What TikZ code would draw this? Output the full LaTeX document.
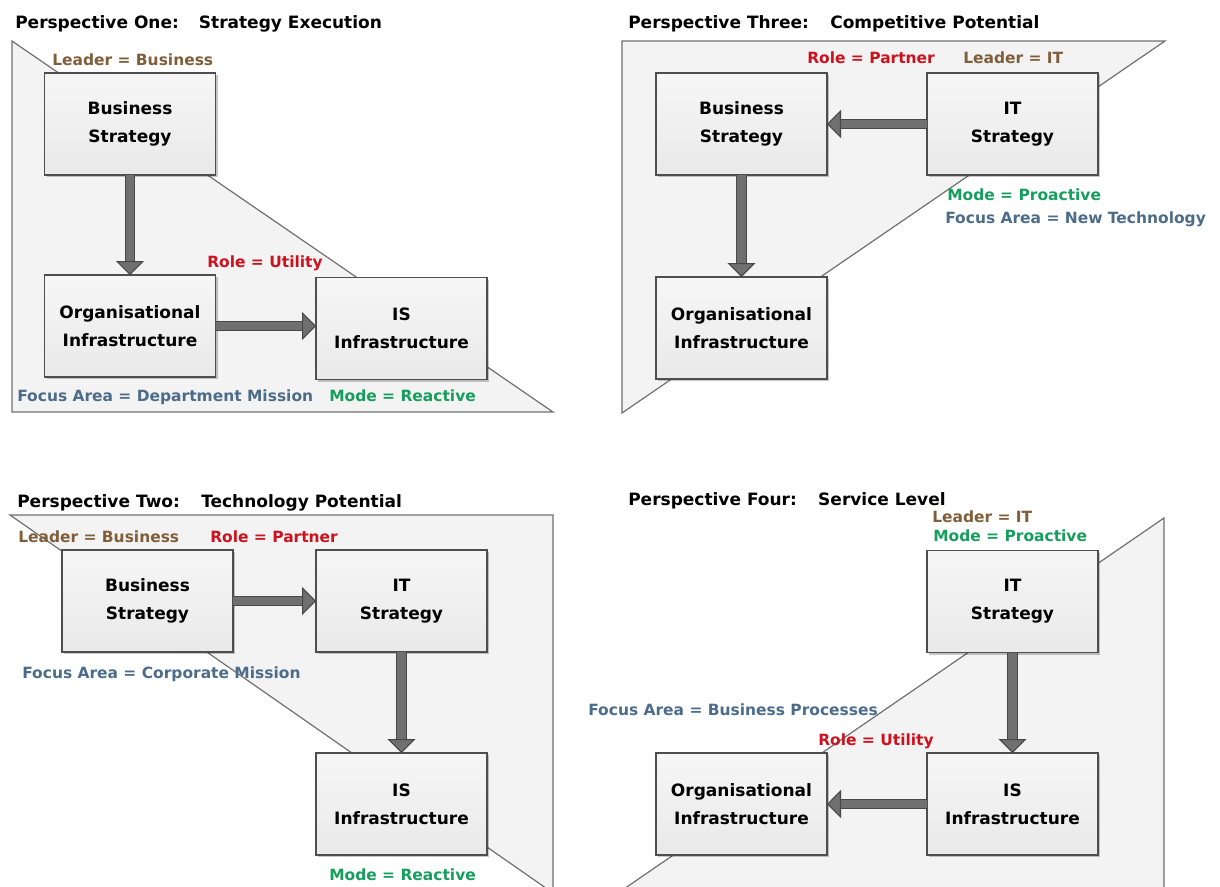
\documentclass[tikz,border=0pt]{standalone}
\usepackage{fontspec}
\setmainfont{DejaVu Sans}
\usetikzlibrary{arrows.meta,shadows}

\definecolor{panelfill}{RGB}{243,243,243}
\definecolor{panelline}{RGB}{112,112,112}
\definecolor{boxline}{RGB}{78,78,78}
\definecolor{arrowedge}{RGB}{72,72,72}
\definecolor{arrowbody}{RGB}{112,112,112}
\definecolor{leadc}{RGB}{128,94,58}
\definecolor{rolec}{RGB}{204,18,30}
\definecolor{modec}{RGB}{22,158,92}
\definecolor{focusc}{RGB}{76,108,138}

\newcommand\boxtextfont{\fontsize{12.75pt}{21pt}\selectfont\bfseries}
\newcommand\labeltextfont{\fontsize{11.6pt}{14pt}\selectfont\bfseries}
\newcommand\titletextfont{\fontsize{12.75pt}{15pt}\selectfont\bfseries}

\begin{document}
\begin{tikzpicture}[x=0.75pt,y=-0.75pt,
  panel/.style={fill=panelfill, draw=panelline, line width=0.9pt, line join=miter},
  box/.style={draw=boxline, line width=1.1pt,
    top color=gray!7, middle color=white, bottom color=gray!17,
    minimum width=128.25pt, minimum height=76.5pt,
    inner sep=0pt, outer sep=0pt, align=center, font=\boxtextfont,
    drop shadow={shadow xshift=1.5pt, shadow yshift=-1.5pt, opacity=0.22, fill=black}},
  lbl/.style={anchor=base west, inner sep=0pt, font=\labeltextfont},
  ttl/.style={anchor=base west, inner sep=0pt, font=\titletextfont},
  blockarrow/.style={line width=6.5pt, draw=arrowbody,
    -{Triangle[length=10.5pt, width=21pt, line width=0.8pt, color=arrowedge, fill=arrowbody]},
    preaction={draw=arrowedge, line width=7.8pt, -, shorten >=10pt}}
]
\useasboundingbox (0,0) rectangle (1220,886);
\clip (0,0) rectangle (1220,886);

% ---------- background shapes of the four perspectives ----------
\filldraw[panel] (12,41) -- (12,412) -- (553,412) -- cycle;
\filldraw[panel] (622,41) -- (1165,41) -- (622,413) -- cycle;
\filldraw[panel] (10,515) -- (553,515) -- (553,893) -- cycle;
\filldraw[panel] (1164,518) -- (1164,893) -- (618,893) -- cycle;

% ---------- titles ----------
\node[ttl] (t1) at (15,28) {Perspective One:\hspace{15pt}Strategy Execution};
\node[ttl] (t3) at (628,28) {Perspective Three:\hspace{16pt}Competitive Potential};
\node[ttl] (t2) at (17,507) {Perspective Two:\hspace{16pt}Technology Potential};
\node[ttl] (t4) at (628,505) {Perspective Four:\hspace{16pt}Service Level};

% ---------- boxes ----------
% Perspective One
\node[box] (bs1) at (130,124)   {Business\\Strategy};
\node[box] (oi1) at (130,326)   {Organisational\\Infrastructure};
\node[box] (is1) at (401.5,328.5) {IS\\Infrastructure};
% Perspective Three
\node[box] (bs3) at (741.5,124) {Business\\Strategy};
\node[box] (it3) at (1012.5,124) {IT\\Strategy};
\node[box] (oi3) at (741.5,328) {Organisational\\Infrastructure};
% Perspective Two
\node[box] (bs2) at (147.5,601) {Business\\Strategy};
\node[box] (it2) at (401.5,601) {IT\\Strategy};
\node[box] (is2) at (401.5,804) {IS\\Infrastructure};
% Perspective Four
\node[box] (it4) at (1012.5,601.5) {IT\\Strategy};
\node[box] (is4) at (1012.5,804) {IS\\Infrastructure};
\node[box] (oi4) at (741.5,804) {Organisational\\Infrastructure};

% ---------- block arrows ----------
\draw[blockarrow] (bs1.south) -- (oi1.north);
\draw[blockarrow] (oi1.east) -- (oi1.east -| is1.west);
\draw[blockarrow] (it3.west) -- (bs3.east);
\draw[blockarrow] (bs3.south) -- (oi3.north);
\draw[blockarrow] (bs2.east) -- (it2.west);
\draw[blockarrow] (it2.south) -- (is2.north);
\draw[blockarrow] (it4.south) -- (is4.north);
\draw[blockarrow] (is4.west) -- (oi4.east);

% ---------- attribute labels ----------
% Perspective One
\node[lbl, text=leadc]  (l1) at (52,65)   {Leader = Business};
\node[lbl, text=rolec]  (r1) at (207,267) {Role = Utility};
\node[lbl, text=focusc] (f1) at (17,401)  {Focus Area = Department Mission};
\node[lbl, text=modec]  (m1) at (329,401) {Mode = Reactive};
% Perspective Three
\node[lbl, text=rolec]  (r3) at (807,63)  {Role = Partner};
\node[lbl, text=leadc]  (l3) at (963,63)  {Leader = IT};
\node[lbl, text=modec]  (m3) at (947,200) {Mode = Proactive};
\node[lbl, text=focusc] (f3) at (945,223) {Focus Area = New Technology};
% Perspective Two
\node[lbl, text=leadc]  (l2) at (18,542)  {Leader = Business};
\node[lbl, text=rolec]  (r2) at (210,542) {Role = Partner};
\node[lbl, text=focusc] (f2) at (22,678)  {Focus Area = Corporate Mission};
\node[lbl, text=modec]  (m2) at (329,880) {Mode = Reactive};
% Perspective Four
\node[lbl, text=leadc]  (l4) at (932,522) {Leader = IT};
\node[lbl, text=modec]  (m4) at (933,541) {Mode = Proactive};
\node[lbl, text=focusc] (f4) at (588,715) {Focus Area = Business Processes};
\node[lbl, text=rolec]  (r4) at (818,745) {Role = Utility};
\end{tikzpicture}
\end{document}
